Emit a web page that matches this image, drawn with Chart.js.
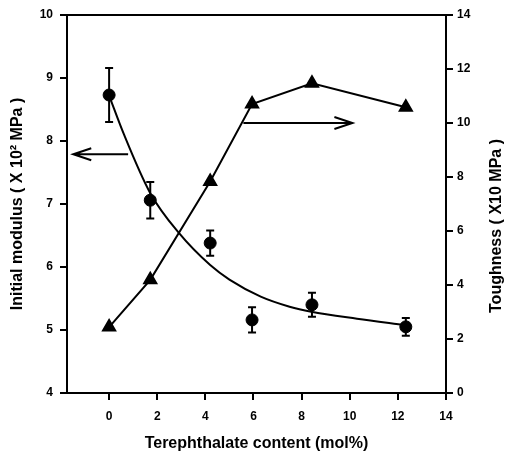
<!DOCTYPE html>
<html>
<head>
<meta charset="utf-8">
<script src="https://cdn.jsdelivr.net/npm/chart.js@4"></script>
<style>
  body { margin: 0; background: #fff; }
  #wrap { width: 520px; height: 454px; }
</style>
</head>
<body>
<div id="wrap"><canvas id="chart" width="520" height="454"></canvas></div>
<script>
// terephthalate content (mol%)
const content = [0, 1.71, 4.2, 5.94, 8.43, 12.33];
// initial modulus (x10^2 MPa) with error
const modulus = [8.73, 7.06, 6.38, 5.16, 5.40, 5.05];
const modulusErr = [0.43, 0.29, 0.20, 0.20, 0.19, 0.14];
// toughness (x10 MPa)
const toughness = [2.44, 4.19, 7.83, 10.70, 11.47, 10.58];

// fitted modulus curve
const fitX = [0, 0.6, 1.7, 2.9, 4.2, 5.0, 6.3, 7.5, 8.4, 10.3, 12.3];
const fitY = [8.72, 8.12, 7.18, 6.54, 6.03, 5.80, 5.53, 5.37, 5.29, 5.18, 5.08];

// arrows pointing to each axis
const leftArrowX = [0.79, -1.49];
const leftArrowY = 7.79;
const rightArrowX = [5.58, 10.11];
const rightArrowY = 10.0;

const xTicks = [0, 2, 4, 6, 8, 10, 12, 14];

const FONT = '"Liberation Sans", Arial, sans-serif';
const tickFont = { family: FONT, size: 12, weight: 'bold' };
const titleFont = { family: FONT, size: 16, weight: 'bold' };

const pts = (xs, ys) => xs.map((v, i) => ({ x: v, y: ys[i] }));

function arrow(ctx, x1, y1, x2, y2) {
  ctx.beginPath();
  ctx.moveTo(x1, y1);
  ctx.lineTo(x2, y2);
  const dir = Math.sign(x2 - x1);
  ctx.moveTo(x2 - dir * 18, y2 - 6);
  ctx.lineTo(x2, y2);
  ctx.lineTo(x2 - dir * 18, y2 + 6);
  ctx.stroke();
}

const overlay = {
  id: 'overlay',
  beforeDatasetsDraw(chart) {
    const { ctx, scales: { x, y } } = chart;
    ctx.save();
    ctx.strokeStyle = '#000';
    ctx.lineWidth = 2;
    content.forEach((v, i) => {
      const px = x.getPixelForValue(v);
      const t = y.getPixelForValue(modulus[i] + modulusErr[i]);
      const b = y.getPixelForValue(modulus[i] - modulusErr[i]);
      ctx.beginPath();
      ctx.moveTo(px, t); ctx.lineTo(px, b);
      ctx.moveTo(px - 4, t); ctx.lineTo(px + 4, t);
      ctx.moveTo(px - 4, b); ctx.lineTo(px + 4, b);
      ctx.stroke();
    });
    ctx.restore();
  },
  afterDatasetsDraw(chart) {
    const { ctx, chartArea, scales: { x, y, y2 } } = chart;
    ctx.save();
    ctx.strokeStyle = '#000';
    ctx.lineWidth = 2;
    // top frame
    ctx.beginPath();
    ctx.moveTo(chartArea.left, chartArea.top);
    ctx.lineTo(chartArea.right, chartArea.top);
    ctx.stroke();
    arrow(ctx, x.getPixelForValue(leftArrowX[0]), y.getPixelForValue(leftArrowY),
      x.getPixelForValue(leftArrowX[1]), y.getPixelForValue(leftArrowY));
    arrow(ctx, x.getPixelForValue(rightArrowX[0]), y2.getPixelForValue(rightArrowY),
      x.getPixelForValue(rightArrowX[1]), y2.getPixelForValue(rightArrowY));
    // right axis title, reads bottom to top
    ctx.translate(497, (chartArea.top + chartArea.bottom) / 2 + 22);
    ctx.rotate(-Math.PI / 2);
    ctx.fillStyle = '#000';
    ctx.font = 'bold 16px ' + FONT;
    ctx.textAlign = 'center';
    ctx.textBaseline = 'middle';
    ctx.fillText('Toughness ( X10 MPa )', 0, 0);
    ctx.restore();
  }
};

const axisCommon = {
  border: { color: '#000', width: 2 },
  grid: { drawOnChartArea: false, color: '#000', lineWidth: 2, tickLength: 7 },
  ticks: { color: '#000', font: tickFont }
};

new Chart(document.getElementById('chart'), {
  type: 'scatter',
  data: {
    datasets: [
      {
        data: pts(fitX, fitY), yAxisID: 'y', showLine: true,
        borderColor: '#000', borderWidth: 2, pointRadius: 0,
        cubicInterpolationMode: 'monotone'
      },
      {
        data: pts(content, modulus), yAxisID: 'y', showLine: false,
        pointStyle: 'circle', pointRadius: 6,
        backgroundColor: '#000', borderColor: '#000'
      },
      {
        data: pts(content, toughness), yAxisID: 'y2', showLine: true,
        borderColor: '#000', borderWidth: 2, tension: 0,
        pointStyle: 'triangle', pointRadius: 7,
        backgroundColor: '#000', pointBorderColor: '#000'
      }
    ]
  },
  options: {
    responsive: false,
    animation: false,
    layout: { padding: { top: 15 } },
    plugins: { legend: { display: false }, tooltip: { enabled: false } },
    scales: {
      x: {
        ...axisCommon,
        type: 'linear', position: 'bottom', min: -1.75, max: 14,
        afterFit: s => { s.height = 61; },
        afterBuildTicks: s => { s.ticks = xTicks.map(v => ({ value: v })); },
        ticks: { ...axisCommon.ticks, padding: 9 },
        title: { display: true, text: 'Terephthalate content (mol%)', color: '#000',
          font: titleFont, padding: { top: 0, bottom: 1 } }
      },
      y: {
        ...axisCommon,
        position: 'left', min: 4, max: 10,
        afterFit: s => { s.width = 67; },
        ticks: { ...axisCommon.ticks, stepSize: 1, padding: 7 },
        title: { display: true, text: 'Initial modulus ( X 10² MPa )', color: '#000',
          font: titleFont, padding: { top: 8, bottom: 0 } }
      },
      y2: {
        ...axisCommon,
        position: 'right', min: 0, max: 14,
        afterFit: s => { s.width = 74; },
        ticks: { ...axisCommon.ticks, stepSize: 2, padding: 4 }
      }
    }
  },
  plugins: [overlay]
});
</script>
</body>
</html>
